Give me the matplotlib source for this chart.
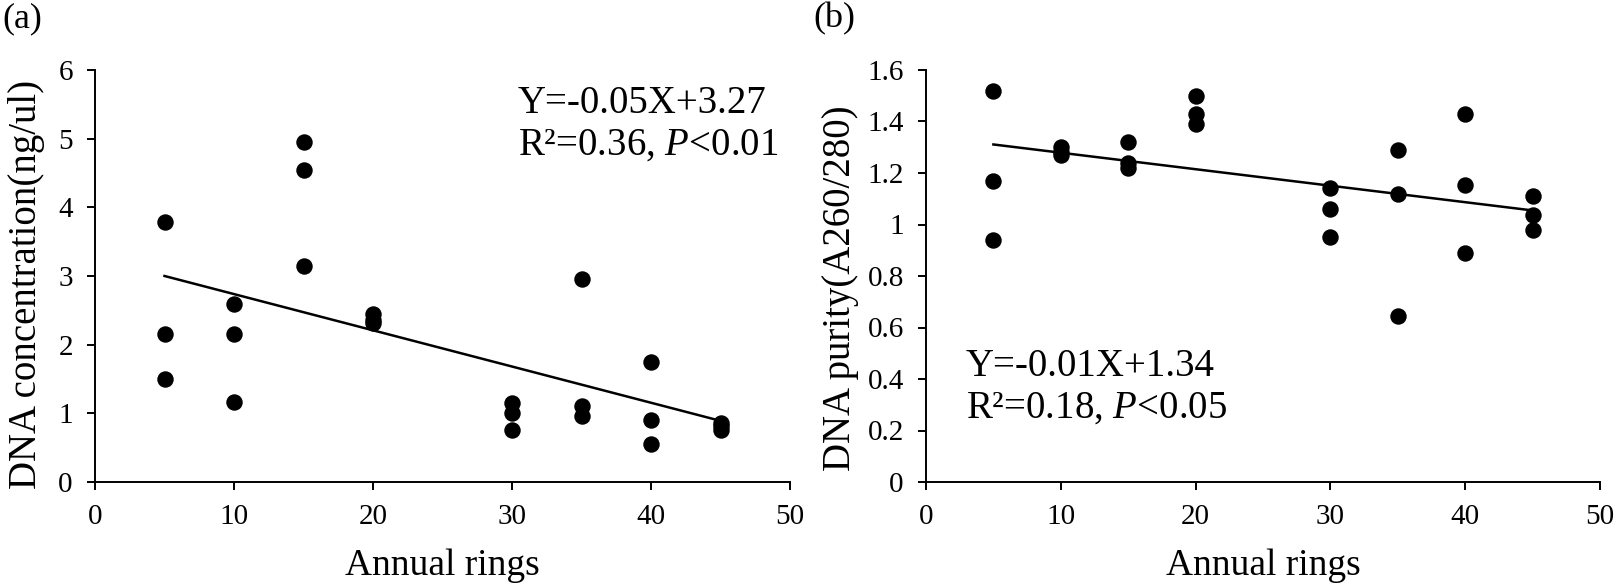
import numpy as np
import matplotlib
matplotlib.use("Agg")
import matplotlib.pyplot as plt
from matplotlib.ticker import FuncFormatter

plt.rcParams['font.family'] = ['Liberation Serif', 'DejaVu Serif']
plt.rcParams['mathtext.fontset'] = 'custom'
plt.rcParams['mathtext.rm'] = 'Liberation Serif'
plt.rcParams['mathtext.it'] = 'Liberation Serif:italic'

# annual rings (3 samples per age)
rings = [5, 5, 5, 10, 10, 10, 15, 15, 15, 20, 20, 20,
         30, 30, 30, 35, 35, 35, 40, 40, 40, 45, 45, 45]
# (a) DNA concentration (ng/ul)
conc = [3.79, 2.15, 1.50, 2.59, 2.15, 1.16, 4.95, 4.54, 3.15, 2.44, 2.36, 2.31,
        1.15, 1.01, 0.76, 2.95, 1.11, 0.96, 1.75, 0.91, 0.56, 0.86, 0.82, 0.76]
# (b) DNA purity (A260/280)
purity = [1.52, 1.17, 0.94, 1.30, 1.28, 1.27, 1.32, 1.24, 1.22, 1.50, 1.43, 1.39,
          1.14, 1.06, 0.95, 1.29, 1.12, 0.645, 1.43, 1.155, 0.89, 1.11, 1.035, 0.98]

eq_a = ["Y=-0.05X+3.27", "R\u00b2=0.36, $P$<0.01"]
eq_b = ["Y=-0.01X+1.34", "R\u00b2=0.18, $P$<0.05"]

W, H = 1618, 587
fig = plt.figure(figsize=(W / 100, H / 100), dpi=100)
ax_a = fig.add_axes([95 / W, 1 - 482 / H, 695 / W, 412 / H])
ax_b = fig.add_axes([926 / W, 1 - 482 / H, 674 / W, 412 / H])

fmt = FuncFormatter(lambda v, p: "{:g}".format(round(v, 2)))


def panel(ax, y, ylim, ystep, ylabel, eq, eq_xy):
    x = np.array(rings, dtype=float)
    y = np.array(y)
    ax.scatter(x, y, s=140, color="black", zorder=3, linewidths=0)
    k, b = np.polyfit(x, y, 1)
    xs = np.array([x.min(), x.max()])
    ax.plot(xs, k * xs + b, color="black", lw=1.8, zorder=2)
    ax.set_xlim(0, 50)
    ax.set_ylim(*ylim)
    ax.set_xticks(np.arange(0, 51, 10))
    ax.set_yticks(np.arange(ylim[0], ylim[1] + 1e-9, ystep))
    ax.yaxis.set_major_formatter(fmt)
    for s in ["top", "right"]:
        ax.spines[s].set_visible(False)
    for s in ["left", "bottom"]:
        ax.spines[s].set_linewidth(1.4)
    ax.tick_params(direction="out", length=6, width=1.4, labelsize=21, pad=10)
    ax.set_xlabel("Annual rings", fontsize=27, labelpad=13)
    ax.set_ylabel(ylabel, fontsize=28)
    ax.text(eq_xy[0], eq_xy[1], eq[0] + "\n" + eq[1], transform=ax.transAxes,
            fontsize=28, va="top", ha="left", linespacing=1.15)


panel(ax_a, conc, (0, 6), 1, "DNA concentration(ng/ul)", eq_a,
      ((518 - 95) / 695, (482 - 85) / 412))
ax_a.yaxis.set_label_coords(-0.072, 0.48)
panel(ax_b, purity, (0, 1.6), 0.2, "DNA purity(A260/280)", eq_b,
      ((966 - 926) / 674, (482 - 348) / 412))
ax_b.yaxis.set_label_coords(-0.099, 0.47)

fig.text(2 / W, 1 - 2 / H, "(a)", fontsize=26, va="top", ha="left")
fig.text(813 / W, 1 - 2 / H, "(b)", fontsize=26, va="top", ha="left")

fig.savefig("out.png", dpi=100, facecolor="white")
